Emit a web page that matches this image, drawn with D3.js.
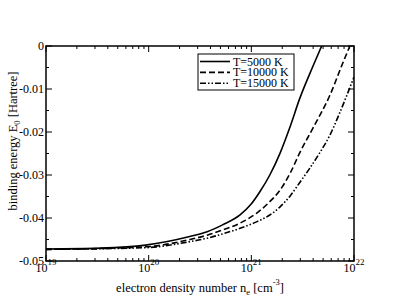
<!DOCTYPE html>
<html>
<head>
<meta charset="utf-8">
<script src="https://cdn.jsdelivr.net/npm/d3@7"></script>
<style>
  body { margin: 0; background: #fff; }
  svg { display: block; }
</style>
</head>
<body>
<div class="chart"></div>
<script>
// series: log10(n_e) and binding energy [Hartree]
const t5000Log = [19.0, 19.53, 19.97, 20.4, 20.57, 20.72, 20.89, 20.99, 21.08, 21.18, 21.28, 21.38, 21.47, 21.6, 21.685]
const t5000E = [-0.0472, -0.0470, -0.0463, -0.0443, -0.0432, -0.0416, -0.0393, -0.0370, -0.0340, -0.0300, -0.0249, -0.0186, -0.0123, -0.0047, 0]

const t10000Log = [19.0, 19.97, 20.4, 20.57, 20.72, 20.89, 21.05, 21.18, 21.28, 21.38, 21.47, 21.6, 21.77, 21.89, 21.96]
const t10000E = [-0.0473, -0.0467, -0.0450, -0.0440, -0.0428, -0.0412, -0.0389, -0.0362, -0.0335, -0.0295, -0.0249, -0.0191, -0.0112, -0.0040, 0]

const t15000Log = [19.0, 19.97, 20.4, 20.57, 20.72, 20.89, 21.05, 21.18, 21.28, 21.38, 21.47, 21.57, 21.67, 21.77, 21.86, 22.0]
const t15000E = [-0.0473, -0.0469, -0.0455, -0.0447, -0.0437, -0.0424, -0.0409, -0.0393, -0.0374, -0.0348, -0.0318, -0.0284, -0.0247, -0.0205, -0.0156, -0.0072]

const seriesNames = ["T=5000 K", "T=10000 K", "T=15000 K"]
const yTicks = [0, -0.01, -0.02, -0.03, -0.04, -0.05]
const yTickLabels = ["0", "-0.01", "-0.02", "-0.03", "-0.04", "-0.05"]
const xDecades = [19, 20, 21, 22]

const series = [
    { name: seriesNames[0], xs: t5000Log, ys: t5000E, dash: null },
    { name: seriesNames[1], xs: t10000Log, ys: t10000E, dash: "6,3" },
    { name: seriesNames[2], xs: t15000Log, ys: t15000E, dash: "6,2,1.5,2,1.5,2" }
]

const width = 398
const height = 307
const margin = { left: 46, right: 44, top: 46, bottom: 46 }
const serif = '"Liberation Serif", "Times New Roman", Times, serif'

const svg = d3.select('.chart')
    .append('svg')
    .attr('width', width)
    .attr('height', height)
    .attr('font-family', serif)
    .style('font-family', serif)

const x = d3.scaleLog()
    .domain([1e19, 1e22])
    .range([margin.left, width - margin.right])

const y = d3.scaleLinear()
    .domain([-0.05, 0])
    .range([height - margin.bottom, margin.top])

// minor ticks
const xMinor = []
xDecades.slice(0, -1).forEach(function (d) {
    for (let k = 2; k <= 9; k++) xMinor.push(k * Math.pow(10, d))
})
const yMinor = d3.range(-0.045, 0, 0.01)

const pTop = margin.top, pBottom = height - margin.bottom
const pLeft = margin.left, pRight = width - margin.right

const ticks = svg.append('g').attr('stroke', '#000').attr('stroke-width', 1)

xDecades.forEach(function (d) {
    const px = x(Math.pow(10, d))
    ticks.append('line').attr('x1', px).attr('x2', px).attr('y1', pBottom).attr('y2', pBottom - 6)
    ticks.append('line').attr('x1', px).attr('x2', px).attr('y1', pTop).attr('y2', pTop + 6)
})
xMinor.forEach(function (v) {
    const px = x(v)
    ticks.append('line').attr('x1', px).attr('x2', px).attr('y1', pBottom).attr('y2', pBottom - 3)
    ticks.append('line').attr('x1', px).attr('x2', px).attr('y1', pTop).attr('y2', pTop + 3)
})
yTicks.forEach(function (v) {
    const py = y(v)
    ticks.append('line').attr('x1', pLeft).attr('x2', pLeft + 6).attr('y1', py).attr('y2', py)
    ticks.append('line').attr('x1', pRight).attr('x2', pRight - 6).attr('y1', py).attr('y2', py)
})
yMinor.forEach(function (v) {
    const py = y(v)
    ticks.append('line').attr('x1', pLeft).attr('x2', pLeft + 3).attr('y1', py).attr('y2', py)
    ticks.append('line').attr('x1', pRight).attr('x2', pRight - 3).attr('y1', py).attr('y2', py)
})

// curves
const line = d3.line()
    .x(function (d) { return x(Math.pow(10, d[0])) })
    .y(function (d) { return y(d[1]) })
    .curve(d3.curveMonotoneX)

svg.append('defs').append('clipPath').attr('id', 'clip')
    .append('rect')
    .attr('x', pLeft).attr('y', pTop)
    .attr('width', pRight - pLeft).attr('height', pBottom - pTop)

series.forEach(function (s) {
    svg.append('path')
        .datum(d3.zip(s.xs, s.ys))
        .attr('clip-path', 'url(#clip)')
        .attr('fill', 'none')
        .attr('stroke', '#000')
        .attr('stroke-width', 1.6)
        .attr('stroke-dasharray', s.dash)
        .attr('d', line)
})

// frame
svg.append('rect')
    .attr('x', pLeft).attr('y', pTop)
    .attr('width', pRight - pLeft).attr('height', pBottom - pTop)
    .attr('fill', 'none')
    .attr('stroke', '#000')
    .attr('stroke-width', 1.5)

// y tick labels
svg.append('g')
    .selectAll('text')
    .data(yTicks)
    .enter()
    .append('text')
    .attr('x', pLeft - 2)
    .attr('y', function (d) { return y(d) + 4 })
    .attr('text-anchor', 'end')
    .attr('font-size', '12px')
    .text(function (d, i) { return yTickLabels[i] })

// x tick labels 10^n
const xl = svg.append('g')
    .selectAll('text')
    .data(xDecades)
    .enter()
    .append('text')
    .attr('x', function (d) { return x(Math.pow(10, d)) })
    .attr('y', pBottom + 11)
    .attr('text-anchor', 'middle')
    .attr('font-size', '12px')
xl.append('tspan').text('10')
xl.append('tspan').attr('font-size', '9px').attr('dy', -7).text(function (d) { return d })

// axis titles
const xt = svg.append('text')
    .attr('x', 200)
    .attr('y', 292)
    .attr('text-anchor', 'middle')
    .attr('font-size', '12.5px')
xt.append('tspan').text('electron density number n')
xt.append('tspan').attr('font-size', '8.5px').attr('dy', 3).text('e')
xt.append('tspan').attr('dy', -3).text(' [cm')
xt.append('tspan').attr('font-size', '8.5px').attr('dy', -7).text('-3')
xt.append('tspan').attr('dy', 7).text(']')

const yt = svg.append('text')
    .attr('transform', 'translate(17,141) rotate(-90)')
    .attr('text-anchor', 'middle')
    .attr('font-size', '12.5px')
yt.append('tspan').text('binding energy E')
yt.append('tspan').attr('font-size', '8.5px').attr('dy', 3).text('0')
yt.append('tspan').attr('dy', -3).text(' [Hartree]')

// legend
const leg = svg.append('g')
leg.append('rect')
    .attr('x', 198).attr('y', 54)
    .attr('width', 96).attr('height', 36)
    .attr('fill', '#fff')
    .attr('stroke', '#000')
    .attr('stroke-width', 1)

series.forEach(function (s, i) {
    const ly = 61.5 + i * 10.9
    leg.append('line')
        .attr('x1', 200).attr('x2', 230)
        .attr('y1', ly).attr('y2', ly)
        .attr('stroke', '#000')
        .attr('stroke-width', 1.6)
        .attr('stroke-dasharray', s.dash)
    leg.append('text')
        .attr('x', 233)
        .attr('y', ly + 4)
        .attr('font-size', '12px')
        .text(s.name)
})
</script>
</body>
</html>
